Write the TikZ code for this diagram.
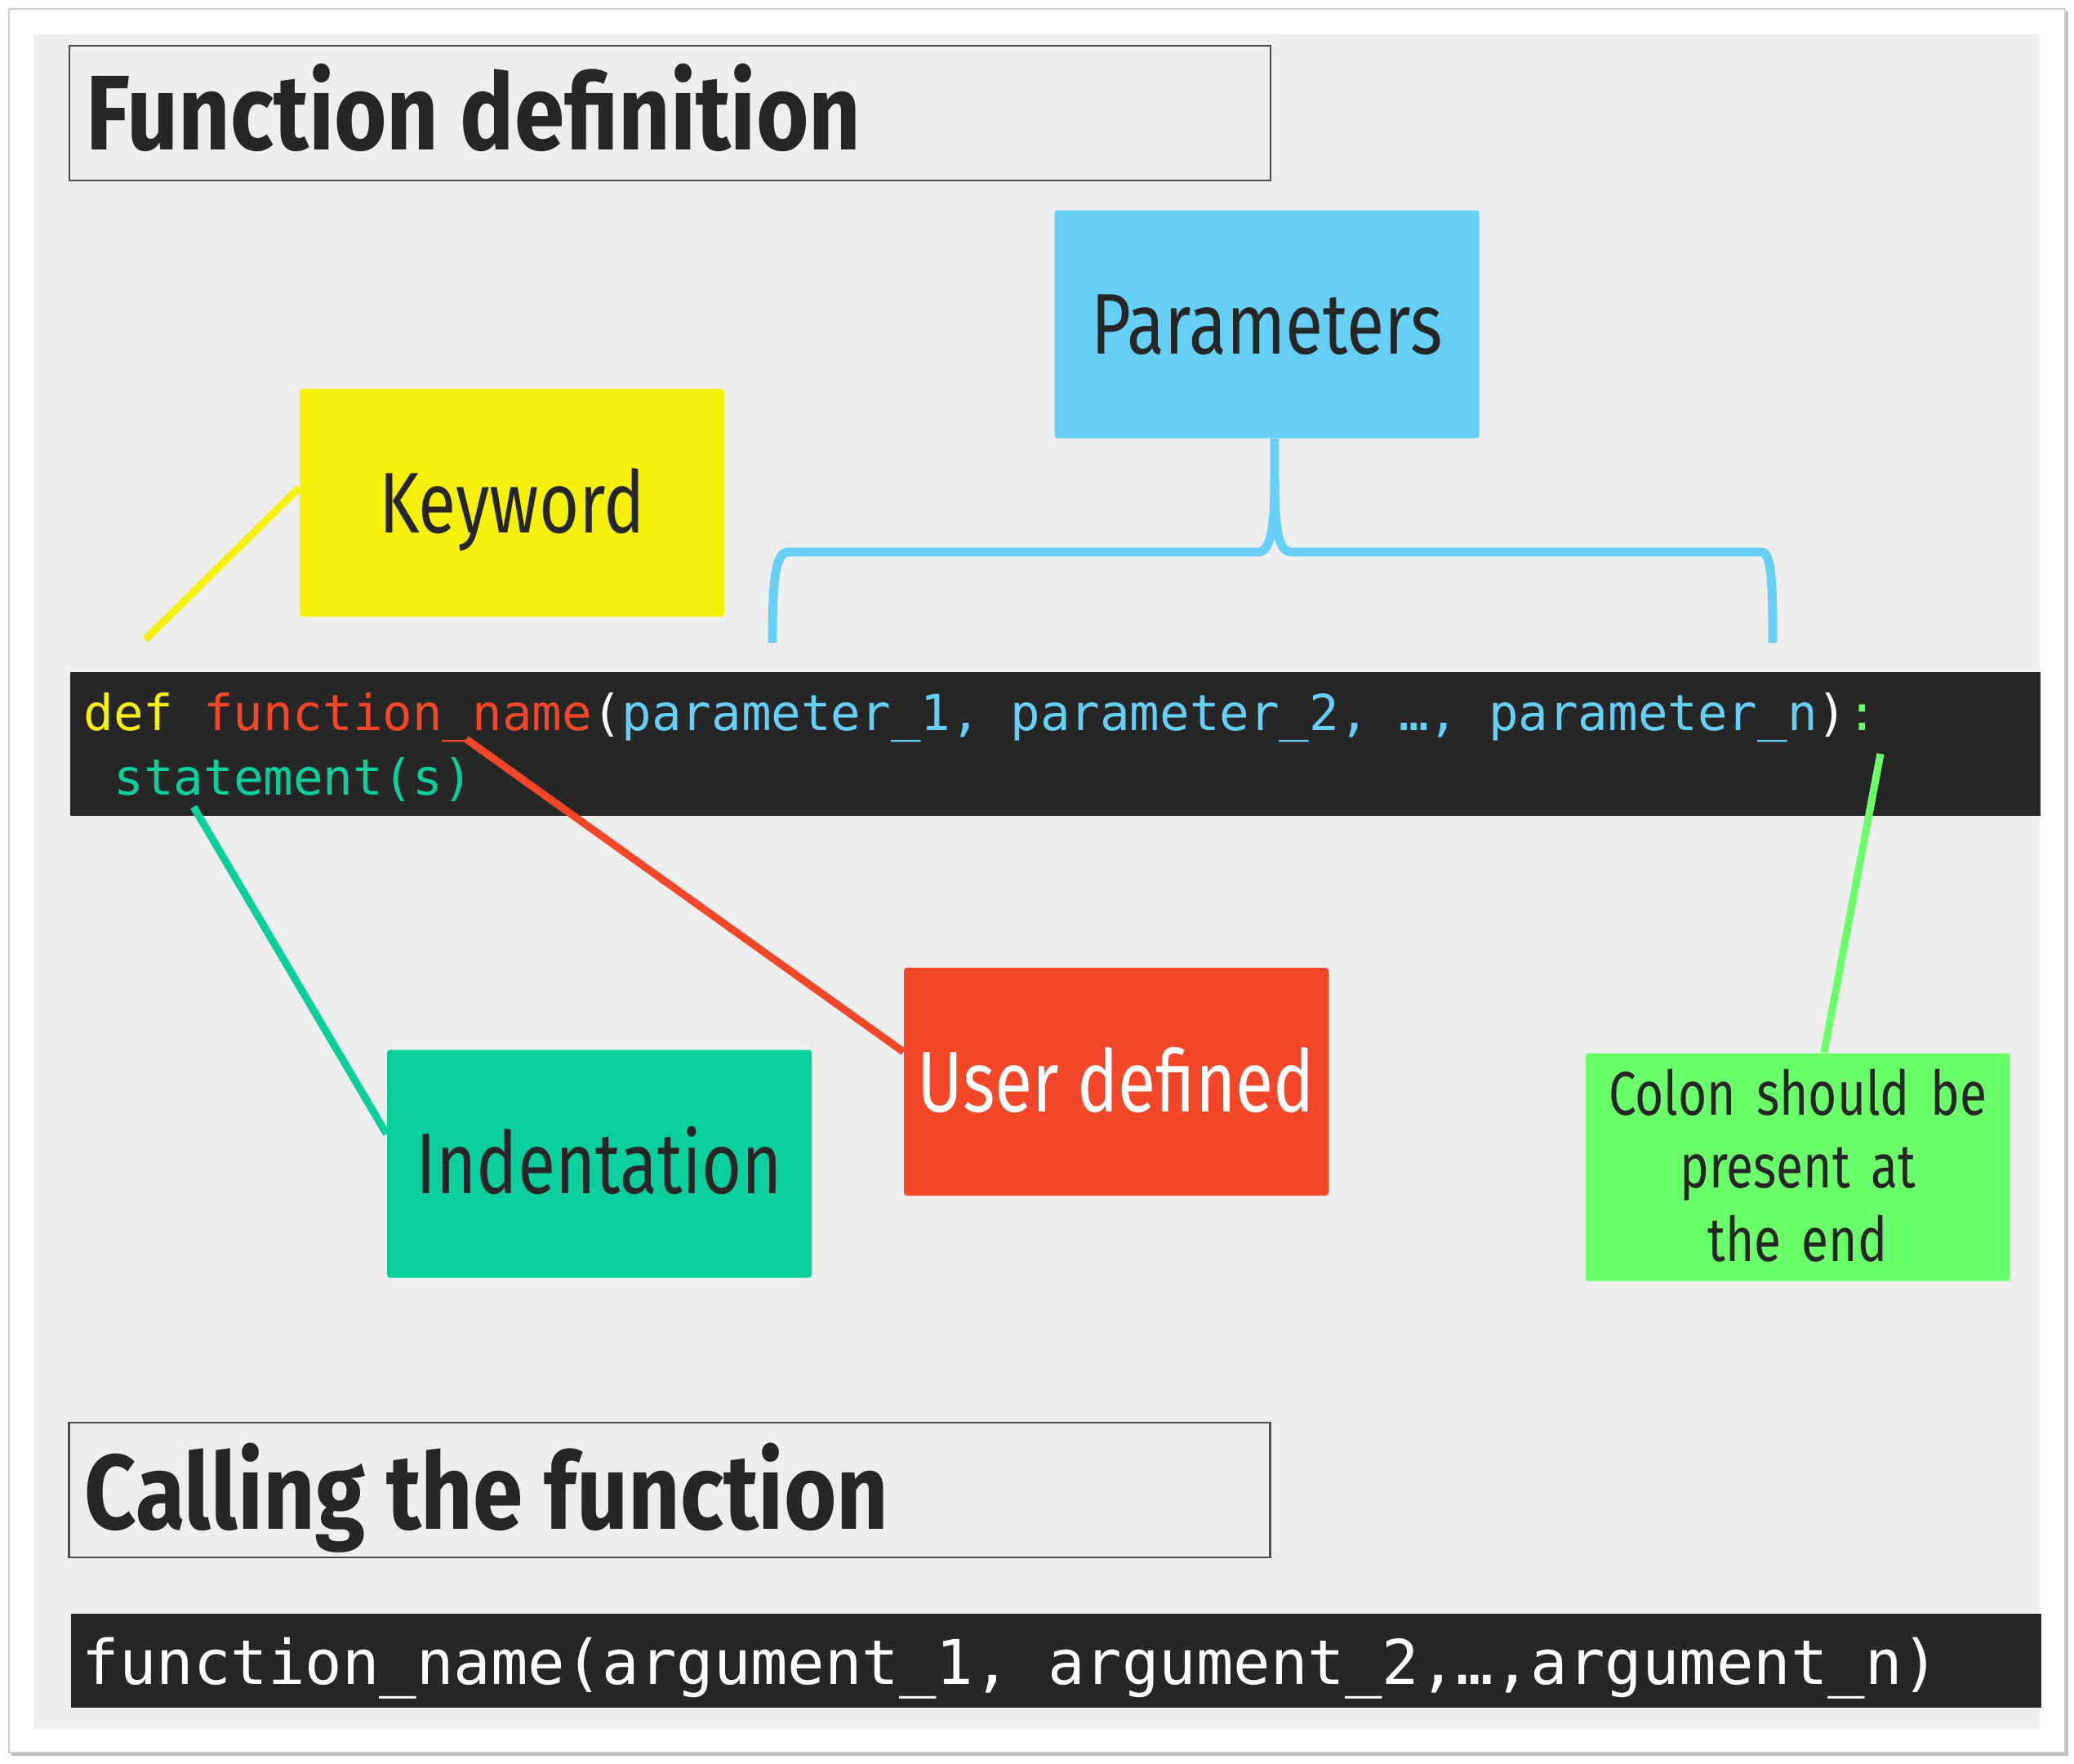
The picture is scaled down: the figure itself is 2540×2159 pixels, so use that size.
\documentclass[tikz,border=0pt]{standalone}
\usepackage{fontspec}
\setmonofont{DejaVu Sans Mono}
\newfontfamily\mmfont[FakeStretch=0.8]{Fira Sans}
\newfontfamily\headfont[FakeStretch=0.85]{Fira Sans}

\definecolor{sheet}{HTML}{EEEEEE}
\definecolor{inkdark}{HTML}{262626}
\definecolor{codebg}{HTML}{262626}
\definecolor{kwyellow}{HTML}{F7F00A}
\definecolor{parblue}{HTML}{66CFF5}
\definecolor{udred}{HTML}{F4472A}
\definecolor{indteal}{HTML}{0ACF9D}
\definecolor{colgreen}{HTML}{6CFF6C}

\tikzset{
  every node/.style={inner sep=0pt},
  topic/.style={rectangle,rounded corners=1pt,minimum width=52mm,minimum height=27.9mm,
    text height=7.3mm,text depth=0pt,text=inkdark,font=\mmfont\fontsize{30}{36}\selectfont},
  titlebox/.style={rectangle,draw=black!70,line width=0.6pt,minimum width=147.1mm,minimum height=16.5mm},
  heading/.style={text=inkdark,font=\headfont\bfseries\fontsize{37}{44}\selectfont},
  codebox/.style={rectangle,fill=codebg,minimum width=241.3mm},
  codeline/.style={font=\ttfamily\fontsize{17.3}{21}\selectfont},
  link/.style={line width=2.6pt},
  brace/.style={parblue,line width=3.1pt}
}

\begin{document}
\begin{tikzpicture}[x=0.1mm,y=-0.1mm]
  \useasboundingbox (0,0) rectangle (2540,2159);
  \fill[white] (0,0) rectangle (2540,2159);
  \fill[black!25] (14,14) rectangle (2533,2150);
  \filldraw[fill=white,draw=black!20] (11,11) rectangle (2529,2146);
  \fill[sheet] (41,42) rectangle (2498,2117);

  % headings
  \node[titlebox] (defbox) at (820.5,138.5) {};
  \node[heading,anchor=base west] (deftitle) at (105,183) {Function definition};
  \node[titlebox] (callbox) at (820,1824.5) {};
  \node[heading,anchor=base west] (calltitle) at (103,1872) {Calling the function};

  % code
  \node[codebox,minimum height=17.6mm] (defcode) at (1292.5,911) {};
  \node[codeline,anchor=base west] (defline) at (102,894)
    {\textcolor{kwyellow}{def} \textcolor{udred}{function\_name}\textcolor{white}{(}\textcolor{parblue}{parameter\_1, parameter\_2, …, parameter\_n}\textcolor{white}{)}\textcolor{colgreen}{:}};
  \node[codeline,anchor=base west,text=indteal] (bodyline) at (139,973) {statement(s)};

  \node[codebox,minimum height=11.5mm] (callcode) at (1293,2033.5) {};
  \node[codeline,anchor=base west,text=white,font=\ttfamily\fontsize{21.5}{26}\selectfont] (callline) at (100,2062)
    {function\_name(argument\_1, argument\_2,…,argument\_n)};

  % topics
  \node[topic,fill=kwyellow] (keyword) at (627,615.5) {Keyword};
  \node[topic,fill=parblue] (params) at (1551.5,397) {Parameters};
  \node[topic,fill=udred,text=white] (userdef) at (1367,1324.5) {User defined};
  \node[topic,fill=indteal] (indent) at (734,1425) {Indentation};
  \node[topic,fill=colgreen,text width=50mm,align=center,text height=5.2mm,text depth=18mm,
    font=\mmfont\fontsize{21.5}{25.6}\selectfont] (colon) at (2201.5,1429)
    {Colon should be\\present at\\the end};

  % brace for the parameters
  \draw[brace] ([xshift=0.95mm]params.south) -- (1561,585)
    .. controls (1561,650) and (1556,676) .. (1540,676) -- (965,676)
    .. controls (949,676) and (946,715) .. (946,787);
  \draw[brace] (1561,585)
    .. controls (1561,650) and (1566,676) .. (1582,676) -- (2157,676)
    .. controls (2170,676) and (2171,715) .. (2171,787);

  % connectors
  \coordinate (kwend) at (178,783);
  \coordinate (udend) at (571,905);
  \coordinate (indend) at (237,988);
  \coordinate (colend) at (2303,923);
  \draw[link,kwyellow] (keyword.176) -- (kwend);
  \draw[link,udred] (userdef.172) -- (udend);
  \draw[link,indteal] (indent.172) -- (indend);
  \draw[link,colgreen] (colon.77) -- (colend);
\end{tikzpicture}
\end{document}
